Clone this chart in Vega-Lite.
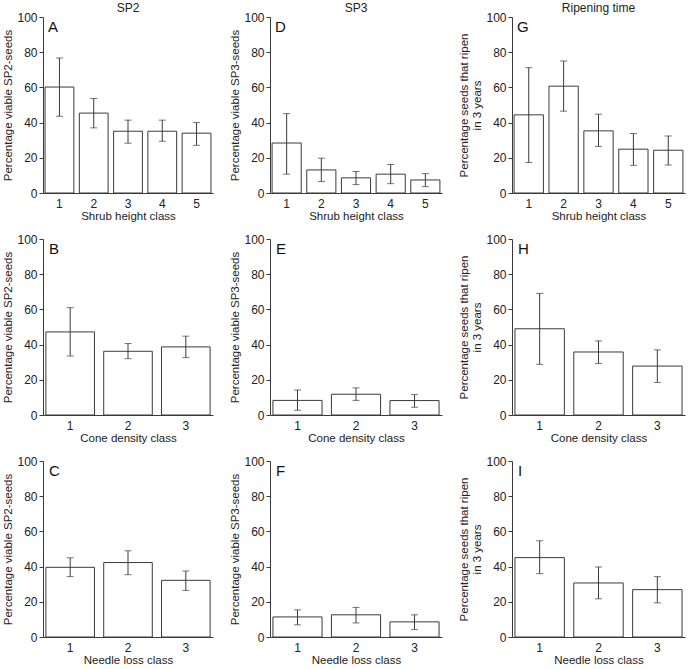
{
  "$schema": "https://vega.github.io/schema/vega-lite/v6.json",
  "padding": {"left": 2, "top": 2, "right": 2, "bottom": 2},
  "background": "white",
  "datasets": {
    "d": [
      {"panel": "A", "cls": 1, "value": 60.2, "lo": 43.6, "hi": 76.7},
      {"panel": "A", "cls": 2, "value": 45.4, "lo": 37.0, "hi": 53.7},
      {"panel": "A", "cls": 3, "value": 35.1, "lo": 28.3, "hi": 41.4},
      {"panel": "A", "cls": 4, "value": 35.1, "lo": 29.4, "hi": 41.4},
      {"panel": "A", "cls": 5, "value": 34.0, "lo": 27.1, "hi": 40.0},
      {"panel": "D", "cls": 1, "value": 28.4, "lo": 10.7, "hi": 45.1},
      {"panel": "D", "cls": 2, "value": 13.1, "lo": 6.5, "hi": 19.8},
      {"panel": "D", "cls": 3, "value": 8.6, "lo": 4.8, "hi": 12.2},
      {"panel": "D", "cls": 4, "value": 10.7, "lo": 5.3, "hi": 16.2},
      {"panel": "D", "cls": 5, "value": 7.4, "lo": 3.6, "hi": 11.0},
      {"panel": "G", "cls": 1, "value": 44.4, "lo": 17.3, "hi": 71.2},
      {"panel": "G", "cls": 2, "value": 60.7, "lo": 46.5, "hi": 75.0},
      {"panel": "G", "cls": 3, "value": 35.3, "lo": 26.4, "hi": 44.8},
      {"panel": "G", "cls": 4, "value": 24.9, "lo": 15.7, "hi": 33.8},
      {"panel": "G", "cls": 5, "value": 24.3, "lo": 15.9, "hi": 32.4},
      {"panel": "B", "cls": 1, "value": 47.2, "lo": 33.5, "hi": 61.0},
      {"panel": "B", "cls": 2, "value": 36.2, "lo": 32.0, "hi": 40.6},
      {"panel": "B", "cls": 3, "value": 38.7, "lo": 32.6, "hi": 44.8},
      {"panel": "E", "cls": 1, "value": 8.3, "lo": 2.7, "hi": 14.2},
      {"panel": "E", "cls": 2, "value": 11.8, "lo": 8.3, "hi": 15.4},
      {"panel": "E", "cls": 3, "value": 8.2, "lo": 4.4, "hi": 11.6},
      {"panel": "H", "cls": 1, "value": 49.0, "lo": 28.8, "hi": 69.1},
      {"panel": "H", "cls": 2, "value": 35.8, "lo": 29.3, "hi": 42.1},
      {"panel": "H", "cls": 3, "value": 27.8, "lo": 18.5, "hi": 37.0},
      {"panel": "C", "cls": 1, "value": 39.6, "lo": 34.3, "hi": 45.0},
      {"panel": "C", "cls": 2, "value": 42.3, "lo": 35.4, "hi": 49.0},
      {"panel": "C", "cls": 3, "value": 32.2, "lo": 26.5, "hi": 37.5},
      {"panel": "F", "cls": 1, "value": 11.4, "lo": 6.9, "hi": 15.4},
      {"panel": "F", "cls": 2, "value": 12.6, "lo": 8.0, "hi": 16.8},
      {"panel": "F", "cls": 3, "value": 8.6, "lo": 4.2, "hi": 12.6},
      {"panel": "I", "cls": 1, "value": 45.1, "lo": 36.0, "hi": 54.7},
      {"panel": "I", "cls": 2, "value": 30.7, "lo": 21.7, "hi": 39.8},
      {"panel": "I", "cls": 3, "value": 26.9, "lo": 19.4, "hi": 34.3}
    ]
  },
  "config": {
    "font": "Liberation Sans",
    "view": {"stroke": null},
    "axis": {
      "grid": false,
      "domainColor": "#3a3a3a",
      "tickColor": "#3a3a3a",
      "labelColor": "#222",
      "titleColor": "#222",
      "labelFont": "Liberation Sans",
      "titleFont": "Liberation Sans",
      "labelFontSize": 12,
      "titleFontSize": 11.5,
      "titleFontWeight": "normal"
    },
    "axisY": {"values": [0, 20, 40, 60, 80, 100], "tickSize": 4, "labelPadding": 2, "titlePadding": 3},
    "axisX": {"labelAngle": 0, "tickSize": -5, "labelPadding": 10, "titlePadding": 1},
    "title": {"font": "Liberation Sans", "fontSize": 12, "fontWeight": "normal", "color": "#222", "offset": -4},
    "concat": {"spacing": 16}
  },
  "spacing": 11,
  "vconcat": [
    {
      "hconcat": [
        {
          "title": "SP2",
          "width": 170, "height": 176,
          "data": {"name": "d"},
          "transform": [{"filter": "datum.panel == 'A'"}],
          "encoding": {"x": {"field": "cls", "type": "ordinal", "title": "Shrub height class", "scale": {"paddingInner": 0.16, "paddingOuter": 0.06}}},
          "layer": [
            {"mark": {"type": "bar", "fill": "white", "stroke": "#3a3a3a", "strokeWidth": 1}, "encoding": {"y": {"field": "value", "type": "quantitative", "scale": {"domain": [0, 100]}, "title": "Percentage viable SP2-seeds"}}},
            {"mark": {"type": "errorbar", "ticks": {"size": 7}, "color": "#3a3a3a"}, "encoding": {"y": {"field": "lo", "type": "quantitative", "title": "Percentage viable SP2-seeds"}, "y2": {"field": "hi"}}},
            {"transform": [{"filter": "datum.cls == 1"}], "mark": {"type": "text", "align": "left", "baseline": "top", "fontSize": 15, "dx": 3, "dy": 3, "color": "#111"}, "encoding": {"x": {"field": "cls", "type": "ordinal", "bandPosition": 0}, "y": {"datum": 100}, "text": {"field": "panel"}}}
          ]
        },
        {
          "title": "SP3",
          "width": 172, "height": 176,
          "data": {"name": "d"},
          "transform": [{"filter": "datum.panel == 'D'"}],
          "encoding": {"x": {"field": "cls", "type": "ordinal", "title": "Shrub height class", "scale": {"paddingInner": 0.16, "paddingOuter": 0.06}}},
          "layer": [
            {"mark": {"type": "bar", "fill": "white", "stroke": "#3a3a3a", "strokeWidth": 1}, "encoding": {"y": {"field": "value", "type": "quantitative", "scale": {"domain": [0, 100]}, "title": "Percentage viable SP3-seeds"}}},
            {"mark": {"type": "errorbar", "ticks": {"size": 7}, "color": "#3a3a3a"}, "encoding": {"y": {"field": "lo", "type": "quantitative", "title": "Percentage viable SP3-seeds"}, "y2": {"field": "hi"}}},
            {"transform": [{"filter": "datum.cls == 1"}], "mark": {"type": "text", "align": "left", "baseline": "top", "fontSize": 15, "dx": 3, "dy": 3, "color": "#111"}, "encoding": {"x": {"field": "cls", "type": "ordinal", "bandPosition": 0}, "y": {"datum": 100}, "text": {"field": "panel"}}}
          ]
        },
        {
          "title": "Ripening time",
          "width": 173, "height": 176,
          "data": {"name": "d"},
          "transform": [{"filter": "datum.panel == 'G'"}],
          "encoding": {"x": {"field": "cls", "type": "ordinal", "title": "Shrub height class", "scale": {"paddingInner": 0.16, "paddingOuter": 0.06}}},
          "layer": [
            {"mark": {"type": "bar", "fill": "white", "stroke": "#3a3a3a", "strokeWidth": 1}, "encoding": {"y": {"field": "value", "type": "quantitative", "scale": {"domain": [0, 100]}, "title": ["Percentage seeds that ripen", "in 3 years"]}}},
            {"mark": {"type": "errorbar", "ticks": {"size": 7}, "color": "#3a3a3a"}, "encoding": {"y": {"field": "lo", "type": "quantitative", "title": ["Percentage seeds that ripen", "in 3 years"]}, "y2": {"field": "hi"}}},
            {"transform": [{"filter": "datum.cls == 1"}], "mark": {"type": "text", "align": "left", "baseline": "top", "fontSize": 15, "dx": 3, "dy": 3, "color": "#111"}, "encoding": {"x": {"field": "cls", "type": "ordinal", "bandPosition": 0}, "y": {"datum": 100}, "text": {"field": "panel"}}}
          ]
        }
      ]
    },
    {
      "hconcat": [
        {
          "width": 170, "height": 176,
          "data": {"name": "d"},
          "transform": [{"filter": "datum.panel == 'B'"}],
          "encoding": {"x": {"field": "cls", "type": "ordinal", "title": "Cone density class", "scale": {"paddingInner": 0.16, "paddingOuter": 0.05}}},
          "layer": [
            {"mark": {"type": "bar", "fill": "white", "stroke": "#3a3a3a", "strokeWidth": 1}, "encoding": {"y": {"field": "value", "type": "quantitative", "scale": {"domain": [0, 100]}, "title": "Percentage viable SP2-seeds"}}},
            {"mark": {"type": "errorbar", "ticks": {"size": 7}, "color": "#3a3a3a"}, "encoding": {"y": {"field": "lo", "type": "quantitative", "title": "Percentage viable SP2-seeds"}, "y2": {"field": "hi"}}},
            {"transform": [{"filter": "datum.cls == 1"}], "mark": {"type": "text", "align": "left", "baseline": "top", "fontSize": 15, "dx": 3, "dy": 3, "color": "#111"}, "encoding": {"x": {"field": "cls", "type": "ordinal", "bandPosition": 0}, "y": {"datum": 100}, "text": {"field": "panel"}}}
          ]
        },
        {
          "width": 172, "height": 176,
          "data": {"name": "d"},
          "transform": [{"filter": "datum.panel == 'E'"}],
          "encoding": {"x": {"field": "cls", "type": "ordinal", "title": "Cone density class", "scale": {"paddingInner": 0.16, "paddingOuter": 0.05}}},
          "layer": [
            {"mark": {"type": "bar", "fill": "white", "stroke": "#3a3a3a", "strokeWidth": 1}, "encoding": {"y": {"field": "value", "type": "quantitative", "scale": {"domain": [0, 100]}, "title": "Percentage viable SP3-seeds"}}},
            {"mark": {"type": "errorbar", "ticks": {"size": 7}, "color": "#3a3a3a"}, "encoding": {"y": {"field": "lo", "type": "quantitative", "title": "Percentage viable SP3-seeds"}, "y2": {"field": "hi"}}},
            {"transform": [{"filter": "datum.cls == 1"}], "mark": {"type": "text", "align": "left", "baseline": "top", "fontSize": 15, "dx": 3, "dy": 3, "color": "#111"}, "encoding": {"x": {"field": "cls", "type": "ordinal", "bandPosition": 0}, "y": {"datum": 100}, "text": {"field": "panel"}}}
          ]
        },
        {
          "width": 173, "height": 176,
          "data": {"name": "d"},
          "transform": [{"filter": "datum.panel == 'H'"}],
          "encoding": {"x": {"field": "cls", "type": "ordinal", "title": "Cone density class", "scale": {"paddingInner": 0.16, "paddingOuter": 0.05}}},
          "layer": [
            {"mark": {"type": "bar", "fill": "white", "stroke": "#3a3a3a", "strokeWidth": 1}, "encoding": {"y": {"field": "value", "type": "quantitative", "scale": {"domain": [0, 100]}, "title": ["Percentage seeds that ripen", "in 3 years"]}}},
            {"mark": {"type": "errorbar", "ticks": {"size": 7}, "color": "#3a3a3a"}, "encoding": {"y": {"field": "lo", "type": "quantitative", "title": ["Percentage seeds that ripen", "in 3 years"]}, "y2": {"field": "hi"}}},
            {"transform": [{"filter": "datum.cls == 1"}], "mark": {"type": "text", "align": "left", "baseline": "top", "fontSize": 15, "dx": 3, "dy": 3, "color": "#111"}, "encoding": {"x": {"field": "cls", "type": "ordinal", "bandPosition": 0}, "y": {"datum": 100}, "text": {"field": "panel"}}}
          ]
        }
      ]
    },
    {
      "hconcat": [
        {
          "width": 170, "height": 176,
          "data": {"name": "d"},
          "transform": [{"filter": "datum.panel == 'C'"}],
          "encoding": {"x": {"field": "cls", "type": "ordinal", "title": "Needle loss class", "scale": {"paddingInner": 0.16, "paddingOuter": 0.05}}},
          "layer": [
            {"mark": {"type": "bar", "fill": "white", "stroke": "#3a3a3a", "strokeWidth": 1}, "encoding": {"y": {"field": "value", "type": "quantitative", "scale": {"domain": [0, 100]}, "title": "Percentage viable SP2-seeds"}}},
            {"mark": {"type": "errorbar", "ticks": {"size": 7}, "color": "#3a3a3a"}, "encoding": {"y": {"field": "lo", "type": "quantitative", "title": "Percentage viable SP2-seeds"}, "y2": {"field": "hi"}}},
            {"transform": [{"filter": "datum.cls == 1"}], "mark": {"type": "text", "align": "left", "baseline": "top", "fontSize": 15, "dx": 3, "dy": 3, "color": "#111"}, "encoding": {"x": {"field": "cls", "type": "ordinal", "bandPosition": 0}, "y": {"datum": 100}, "text": {"field": "panel"}}}
          ]
        },
        {
          "width": 172, "height": 176,
          "data": {"name": "d"},
          "transform": [{"filter": "datum.panel == 'F'"}],
          "encoding": {"x": {"field": "cls", "type": "ordinal", "title": "Needle loss class", "scale": {"paddingInner": 0.16, "paddingOuter": 0.05}}},
          "layer": [
            {"mark": {"type": "bar", "fill": "white", "stroke": "#3a3a3a", "strokeWidth": 1}, "encoding": {"y": {"field": "value", "type": "quantitative", "scale": {"domain": [0, 100]}, "title": "Percentage viable SP3-seeds"}}},
            {"mark": {"type": "errorbar", "ticks": {"size": 7}, "color": "#3a3a3a"}, "encoding": {"y": {"field": "lo", "type": "quantitative", "title": "Percentage viable SP3-seeds"}, "y2": {"field": "hi"}}},
            {"transform": [{"filter": "datum.cls == 1"}], "mark": {"type": "text", "align": "left", "baseline": "top", "fontSize": 15, "dx": 3, "dy": 3, "color": "#111"}, "encoding": {"x": {"field": "cls", "type": "ordinal", "bandPosition": 0}, "y": {"datum": 100}, "text": {"field": "panel"}}}
          ]
        },
        {
          "width": 173, "height": 176,
          "data": {"name": "d"},
          "transform": [{"filter": "datum.panel == 'I'"}],
          "encoding": {"x": {"field": "cls", "type": "ordinal", "title": "Needle loss class", "scale": {"paddingInner": 0.16, "paddingOuter": 0.05}}},
          "layer": [
            {"mark": {"type": "bar", "fill": "white", "stroke": "#3a3a3a", "strokeWidth": 1}, "encoding": {"y": {"field": "value", "type": "quantitative", "scale": {"domain": [0, 100]}, "title": ["Percentage seeds that ripen", "in 3 years"]}}},
            {"mark": {"type": "errorbar", "ticks": {"size": 7}, "color": "#3a3a3a"}, "encoding": {"y": {"field": "lo", "type": "quantitative", "title": ["Percentage seeds that ripen", "in 3 years"]}, "y2": {"field": "hi"}}},
            {"transform": [{"filter": "datum.cls == 1"}], "mark": {"type": "text", "align": "left", "baseline": "top", "fontSize": 15, "dx": 3, "dy": 3, "color": "#111"}, "encoding": {"x": {"field": "cls", "type": "ordinal", "bandPosition": 0}, "y": {"datum": 100}, "text": {"field": "panel"}}}
          ]
        }
      ]
    }
  ]
}
